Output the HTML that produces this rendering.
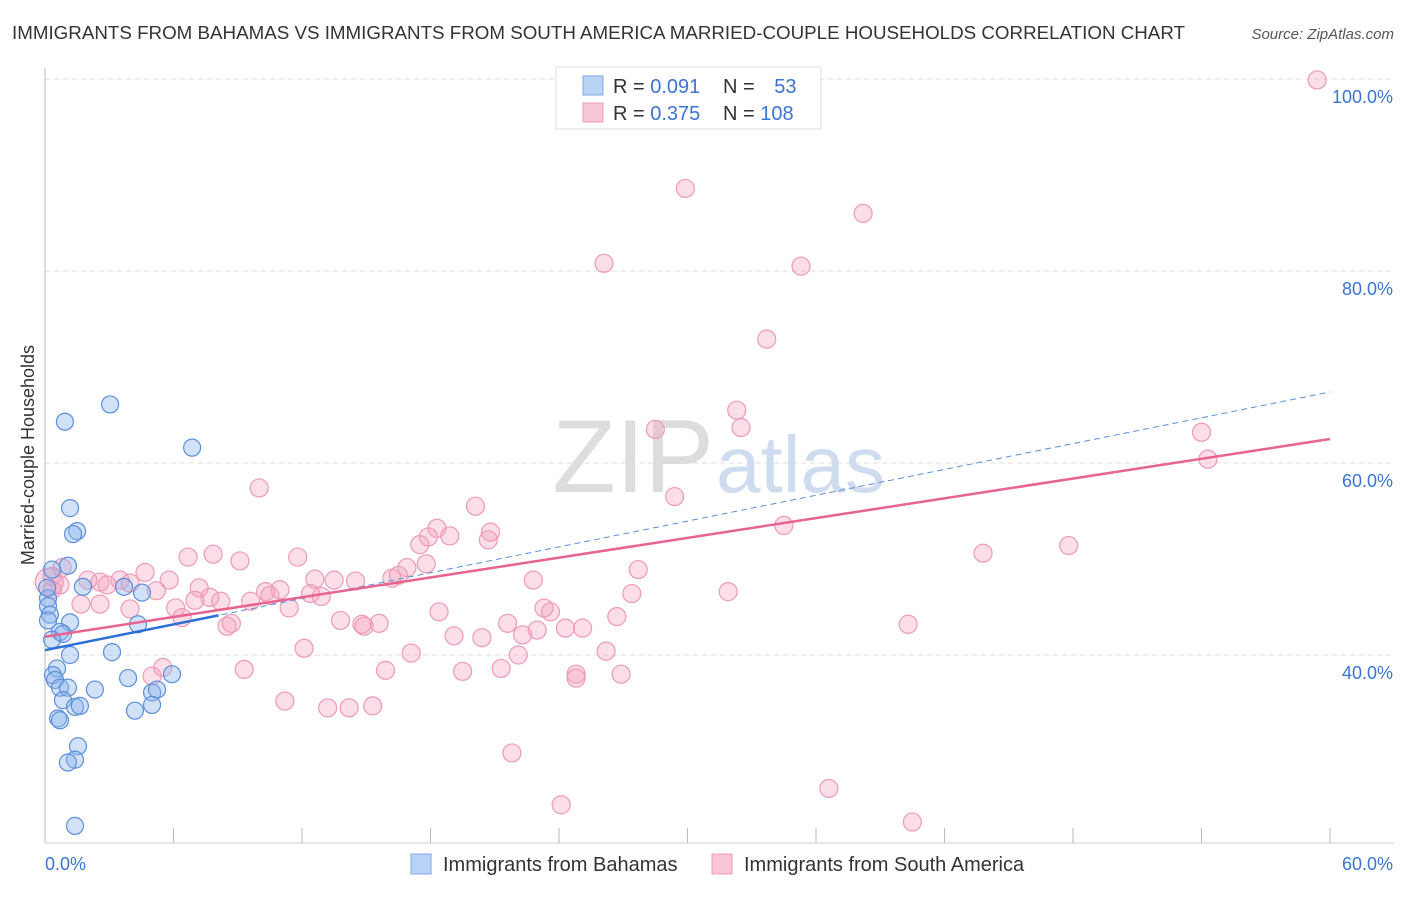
<!DOCTYPE html>
<html><head><meta charset="utf-8"><style>
body{margin:0;background:#fff;font-family:"Liberation Sans",sans-serif;}
svg text{font-family:"Liberation Sans",sans-serif;}
</style></head><body>
<svg id="chart" width="1406" height="892" xmlns="http://www.w3.org/2000/svg">
<text x="12" y="39" font-size="18" fill="#333" textLength="1173" lengthAdjust="spacingAndGlyphs">IMMIGRANTS FROM BAHAMAS VS IMMIGRANTS FROM SOUTH AMERICA MARRIED-COUPLE HOUSEHOLDS CORRELATION CHART</text>
<text x="1394" y="39" font-size="15" fill="#555" text-anchor="end" font-style="italic">Source: ZipAtlas.com</text>
<g id="grid"></g>
<text x="714" y="492" font-size="104" fill="#ddd" text-anchor="end" font-family="Liberation Serif">ZIP</text>
<text x="716" y="492" font-size="80" fill="#cfdcef">atlas</text>
<g id="marks"></g>
<text x="34" y="455" font-size="18" fill="#333" text-anchor="middle" transform="rotate(-90 34 455)">Married-couple Households</text>
<g>
<rect x="556" y="67" width="265" height="62" fill="#fff" stroke="#ddd"/>
<rect x="583" y="76" width="20" height="19" fill="#b9d3f5" stroke="#7ea8e6"/>
<rect x="583" y="103" width="20" height="19" fill="#f9c6d6" stroke="#ef9fb8"/>
<text x="613" y="93" font-size="20" fill="#333">R = <tspan fill="#3a74d4">0.091</tspan></text>
<text x="723" y="93" font-size="20" fill="#333">N = <tspan fill="#3a74d4" dx="14">53</tspan></text>
<text x="613" y="120" font-size="20" fill="#333">R = <tspan fill="#3a74d4">0.375</tspan></text>
<text x="723" y="120" font-size="20" fill="#333">N = <tspan fill="#3a74d4">108</tspan></text>
</g>
<g>
<rect x="411" y="854" width="20" height="20" fill="#b9d3f5" stroke="#7ea8e6"/>
<text x="443" y="871" font-size="20" fill="#333">Immigrants from Bahamas</text>
<rect x="712" y="854" width="20" height="20" fill="#f9c6d6" stroke="#ef9fb8"/>
<text x="744" y="871" font-size="20" fill="#333">Immigrants from South America</text>
</g>
</svg>
<script>
const yTicks=[40,60,80,100];
const xTickLabels=["0.0%","60.0%"];
const blueX=[3.04,0.93,6.87,1.17,1.5,1.31,1.07,0.33,1.77,3.69,4.53,0.14,0.14,0.23,0.14,4.34,1.17,0.7,0.84,0.33,1.17,3.13,0.56,0.37,0.47,3.88,5.93,0.7,1.07,2.33,5.0,5.23,0.84,1.4,1.63,4.2,5.0,0.61,0.7,1.54,1.4,1.07,1.4,0.1];
const blueY=[66.1,64.3,61.6,55.3,52.9,52.6,49.3,48.9,47.1,47.1,46.5,45.9,45.1,44.2,43.6,43.2,43.4,42.4,42.2,41.6,40.0,40.3,38.6,37.9,37.4,37.6,38.0,36.6,36.6,36.4,36.1,36.4,35.3,34.6,34.7,34.2,34.8,33.4,33.2,30.5,29.1,28.8,22.2,47.0];
const pinkX=[59.4,29.9,38.2,26.1,35.3,33.7,32.3,32.5,28.5,54.0,54.3,10.0,29.4,20.1,34.5,18.3,20.8,17.9,18.9,20.7,17.5,47.8,43.8,7.85,6.68,11.8,9.1,16.9,17.8,27.7,0.8,4.67,16.5,16.2,12.6,13.5,14.5,22.8,5.8,3.5,2.57,2.0,0.7,7.2,2.9,3.97,10.97,10.3,10.5,5.2,7.7,12.4,12.9,27.4,31.9,7.0,8.2,9.6,1.68,2.57,11.4,6.1,3.97,23.3,23.6,18.4,6.4,26.7,13.8,21.6,40.3,15.6,14.8,14.9,8.7,8.5,24.3,25.1,22.98,22.3,19.1,20.4,12.1,17.1,26.2,22.1,5.5,9.3,15.9,21.3,19.5,24.8,26.9,24.8,5.0,11.2,13.2,14.2,15.3,21.8,36.6,24.1,40.5,0.2,0.33,0.33];
const pinkY=[99.9,88.6,86.0,80.8,80.5,72.9,65.5,63.7,63.5,63.2,60.4,57.4,56.5,55.5,53.5,53.2,52.8,52.3,52.4,52.0,51.5,51.4,50.6,50.5,50.2,50.2,49.8,49.1,49.5,48.9,49.1,48.6,48.3,48.0,47.9,47.8,47.7,47.8,47.8,47.8,47.6,47.8,47.3,47.0,47.3,47.5,46.8,46.6,46.2,46.7,46.0,46.4,46.1,46.4,46.6,45.7,45.6,45.6,45.3,45.3,44.9,44.9,44.8,44.9,44.5,44.5,43.9,44.0,43.6,43.3,43.2,43.3,43.2,43.0,43.3,43.0,42.8,42.8,42.6,42.1,42.0,41.8,40.7,40.2,40.4,40.0,38.7,38.5,38.4,38.6,38.3,38.0,38.0,37.6,37.8,35.2,34.5,34.5,34.7,29.8,26.1,24.4,22.6,47.6,46.8,48.2];
const blueTrend=[40.5,67.4];
const pinkTrend=[41.9,62.5];
const NS="http://www.w3.org/2000/svg";
const X=v=>45+v/60*1285;
const Y=v=>79+(100-v)*9.6;
const grid=document.getElementById('grid'),marks=document.getElementById('marks');
function mk(tag,attrs,parent){const e=document.createElementNS(NS,tag);for(const k in attrs)e.setAttribute(k,attrs[k]);parent.appendChild(e);return e;}
yTicks.forEach(t=>{
 const l=mk('line',{x1:45,x2:1394,y1:Y(t),y2:Y(t),stroke:'#ddd','stroke-dasharray':'5,4'},grid);
 
 
 const tx=mk('text',{x:1393,y:Y(t)+24,'font-size':18,fill:'#3a74d4','text-anchor':'end'},grid);
 tx.textContent=t.toFixed(1)+'%';
 
 
});
const ax=mk('line',{x1:45,x2:45,y1:68,y2:843,stroke:'#bbb'},grid);


const bx=mk('line',{x1:45,x2:1394,y1:843,y2:843,stroke:'#ccc'},grid);


for(let i=0;i<=10;i++){
 const t=mk('line',{x1:X(i*6),x2:X(i*6),y1:828,y2:843,stroke:'#bbb'},grid);
 
 
}
[[0,'start',45],[1,'end',1393]].forEach(([i,a,x])=>{
 const tx=mk('text',{x:x,y:870,'font-size':18,fill:'#3a74d4','text-anchor':a},grid);
 tx.textContent=xTickLabels[i];
 
 
});
pinkX.forEach((v,i)=>{
 const c=mk('circle',{cx:X(v),cy:Y(pinkY[i]),r:(i==pinkX.length-3)?14:9,fill:'rgba(244,160,188,0.35)',stroke:'#ee9ab5','stroke-width':1.2},marks);
 
 
});
blueX.forEach((v,i)=>{
 const c=mk('circle',{cx:X(v),cy:Y(blueY[i]),r:8.5,fill:'rgba(140,180,235,0.4)',stroke:'#5b8fdc','stroke-width':1.2},marks);
 
 
});
const bd=mk('line',{x1:X(0),y1:Y(blueTrend[0]),x2:X(60),y2:Y(blueTrend[1]),stroke:'#5b8fdc','stroke-width':1,'stroke-dasharray':'6,4'},marks);


const xe=8.1;
const bs=mk('line',{x1:X(0),y1:Y(blueTrend[0]),x2:X(xe),y2:Y(blueTrend[0]+(blueTrend[1]-blueTrend[0])*xe/60),stroke:'#2a6ed6','stroke-width':2.5},marks);


const pl=mk('line',{x1:X(0),y1:Y(pinkTrend[0]),x2:X(60),y2:Y(pinkTrend[1]),stroke:'#e8638f','stroke-width':2.5},marks);


</script>
</body></html>
